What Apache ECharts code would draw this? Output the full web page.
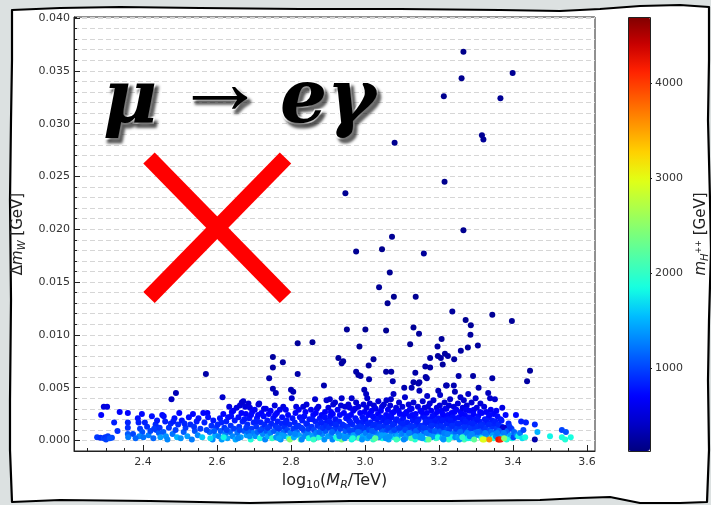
<!DOCTYPE html>
<html><head><meta charset="utf-8">
<script src="https://cdn.jsdelivr.net/npm/echarts@6/dist/echarts.min.js"></script>
<style>html,body{margin:0;padding:0;background:#dce1e1;}#c{width:711px;height:505px;}</style>
</head><body><div id="c"></div>
<script>
// ---- tick values ----
const xMajorTicks = [2.4, 2.6, 2.8, 3.0, 3.2, 3.4, 3.6];
const xMinorTicks = [2.25,2.30,2.35,2.45,2.50,2.55,2.65,2.70,2.75,2.85,2.90,2.95,3.05,3.10,3.15,3.25,3.30,3.35,3.45,3.50,3.55];
const yMajorTicks = [0.000,0.005,0.010,0.015,0.020,0.025,0.030,0.035,0.040];
const colorbarTicks = [1000, 2000, 3000, 4000];
const xRange = [2.2135, 3.6216];
const yRange = [-0.001, 0.0401];
const colorRange = [126, 4695];

// ---- data: [log10(M_R/TeV), Delta m_W (GeV), m_H++ (GeV)] ----
const upperPoints = [
[3.266,0.0368,170],[3.261,0.0343,190],[3.399,0.0348,200],[3.213,0.0326,180],[3.366,0.0324,210],[3.080,0.0282,190],[3.316,0.0289,200],[3.320,0.0285,220],[3.215,0.0245,180],[2.947,0.0234,200],[3.266,0.0199,190],[3.073,0.0193,210],[2.976,0.0179,200],[3.046,0.0181,180],[3.159,0.0177,230],[3.067,0.0159,200],[3.038,0.0145,220],[3.061,0.0130,210],[3.078,0.0136,190],[3.137,0.0136,200],[3.236,0.0122,240],[3.344,0.0119,210],[3.397,0.0113,220],[3.272,0.0114,200],[3.286,0.0109,230],[3.285,0.0100,250],[3.001,0.0105,210],[3.057,0.0104,200],[3.131,0.0107,220],[3.146,0.0101,240],[3.207,0.0096,230],[3.196,0.0089,260],[3.122,0.0091,220],[2.985,0.0089,230],[3.305,0.0090,250],[3.278,0.0088,240],[3.259,0.0085,260],[3.197,0.0080,250],[3.216,0.0082,260],[3.224,0.0080,270],[3.210,0.0072,250],[3.205,0.0078,280],[3.241,0.0077,260],[3.176,0.0078,270],[3.023,0.0077,250],[3.010,0.0071,260],[3.163,0.0070,280],[3.176,0.0069,270],[3.136,0.0064,290],[3.057,0.0065,260],[3.071,0.0065,280],[2.982,0.0062,270],[2.988,0.0061,300],[3.446,0.0066,240],[3.438,0.0056,260],[3.344,0.0059,280],[3.292,0.0061,270],[3.253,0.0061,290],[3.011,0.0058,300],[3.164,0.0060,280],[3.131,0.0055,300],[3.147,0.0055,290],[3.075,0.0056,310],[3.219,0.0052,300],[3.240,0.0052,320],[3.106,0.0050,310],[3.126,0.0050,330],[3.307,0.0050,300],[2.951,0.0105,220],[2.818,0.0092,230],[2.858,0.0093,220],[2.751,0.0079,250],[2.751,0.0069,270],[2.778,0.0074,260],[2.928,0.0078,250],[2.937,0.0073,270],[2.941,0.0075,260],[2.818,0.0063,290],[2.570,0.0063,280],[2.976,0.0065,290],[2.741,0.0059,300],[2.751,0.0049,330],[2.759,0.0045,350],[2.800,0.0048,330],[2.806,0.0046,340],[2.889,0.0052,310],[2.489,0.0045,340],[2.477,0.0039,380],[2.998,0.0048,330],[3.144,0.0054,300],[3.167,0.0059,290],[3.198,0.0047,340],[3.221,0.0052,320],[3.243,0.0046,350],[3.147,0.0047,350],[3.333,0.0045,360]
];
const leftPoints = [
[2.276,0.0003,950],[2.285,0.00025,900],[2.294,0.0002,1000],[2.298,0.0003,920],[2.300,0.0001,980],[2.287,0.0024,700],[2.294,0.0032,520],[2.303,0.0032,540],
[2.305,0.0004,950],[2.316,0.00025,1000],[2.322,0.0017,820],[2.331,0.0009,900],[2.337,0.0027,680],[2.310,0.0002,1050],
[2.359,0.0026,700],[2.359,0.0017,850],[2.359,0.0012,900],[2.359,0.0006,1100],[2.360,0.0003,1250],[2.373,0.0006,1000],[2.386,0.0021,760],[2.388,0.0017,820],[2.397,0.0025,720],[2.392,0.0011,950],[2.398,0.0008,1050],[2.390,0.0004,1300],[2.380,0.0002,1150],
[2.401,0.0003,1200],[2.411,0.0013,900],[2.424,0.0023,750],[2.434,0.0015,880],[2.438,0.0019,800],[2.436,0.0010,980],[2.443,0.0007,1100],[2.447,0.0003,1400],[2.415,0.0005,1250],[2.420,0.0009,1000],[2.428,0.0002,1150],[2.405,0.0017,840],[2.430,0.0011,950],[2.445,0.0012,920],
[2.452,0.0024,720],[2.456,0.0023,740],[2.460,0.0018,820],[2.498,0.0026,700],[2.455,0.0008,1100],[2.462,0.0004,1350],[2.470,0.0012,930],[2.475,0.0016,860],[2.480,0.0006,1200],[2.485,0.0021,760],[2.488,0.0010,980],[2.492,0.0003,1500],[2.495,0.0015,880],[2.466,0.0001,1300],[2.482,0.0018,800],
[2.505,0.0019,790],[2.510,0.0008,1100],[2.515,0.0012,940],[2.520,0.0004,1400],[2.524,0.0022,750],[2.528,0.0015,870],[2.532,0.0001,1250],[2.535,0.0025,710],[2.540,0.0009,1050],[2.545,0.0018,810],[2.548,0.0005,1300],[2.512,0.0016,850],[2.538,0.0013,920],[2.502,0.0002,1350],[2.550,0.0021,770],
[2.555,0.0011,960],[2.560,0.0003,1600],[2.563,0.0026,700],[2.566,0.0017,830],[2.574,0.0026,690],[2.576,0.0022,760],[2.580,0.0008,1150],[2.585,0.0014,900],[2.588,0.0001,1300],[2.590,0.0019,790],[2.595,0.0005,1450],[2.598,0.0012,930],[2.572,0.0010,1000],[2.582,0.0002,1700],[2.592,0.0009,1100]
];
const midPoints = [
[2.602,0.0015,870],[2.605,0.0004,1300],[2.608,0.0021,770],[2.610,0.0009,1100],[2.613,0.0001,1400],[2.615,0.0041,420],[2.617,0.0025,700],[2.620,0.0012,930],[2.622,0.0006,1250],[2.625,0.0018,820],[2.628,0.0002,1450],[2.630,0.0022,750],[2.633,0.0032,520],[2.635,0.0008,1150],[2.637,0.0014,900],[2.640,0.0027,680],[2.642,0.0004,1300],[2.644,0.0028,660],[2.646,0.0011,960],[2.648,0.0019,800],[2.650,0.0001,1450],[2.612,0.0017,840],[2.626,0.0010,1000],[2.638,0.0023,740],[2.618,0.0003,1800],
[2.653,0.0031,540],[2.655,0.0007,1200],[2.658,0.0022,750],[2.660,0.0013,910],[2.662,0.0033,500],[2.664,0.0003,1400],[2.667,0.0036,470],[2.669,0.0018,820],[2.671,0.0037,460],[2.673,0.0009,1100],[2.676,0.0032,520],[2.678,0.0025,700],[2.680,0.0005,1400],[2.682,0.0015,870],[2.685,0.0035,490],[2.687,0.0021,770],[2.689,0.0031,540],[2.691,0.0001,1900],[2.693,0.0011,950],[2.695,0.0027,680],[2.697,0.0007,1250],[2.699,0.0017,830],[2.657,0.0002,1300],[2.666,0.0026,690],[2.674,0.0020,780],[2.684,0.0008,1150],[2.692,0.0024,720],[2.661,0.0010,1000],[2.679,0.0012,930],[2.688,0.0004,1350],
[2.702,0.0029,640],[2.704,0.0004,1350],[2.706,0.0013,910],[2.708,0.0021,770],[2.710,0.0008,1150],[2.712,0.0034,500],[2.714,0.0035,490],[2.716,0.0002,1850],[2.718,0.0017,830],[2.720,0.0026,690],[2.722,0.0011,950],[2.724,0.0006,1300],[2.726,0.0023,740],[2.728,0.0015,870],[2.730,0.0001,1300],[2.732,0.0030,600],[2.734,0.0009,1100],[2.736,0.0019,800],[2.738,0.0004,1450],[2.740,0.0025,700],[2.742,0.0013,910],[2.744,0.0007,1250],[2.745,0.0028,660],[2.747,0.0016,850],[2.749,0.0002,2000],[2.707,0.0018,820],[2.717,0.0010,1000],[2.727,0.0030,580],[2.737,0.0012,930],[2.711,0.0024,720],
[2.752,0.0021,770],[2.754,0.0009,1100],[2.756,0.0033,500],[2.758,0.0014,890],[2.760,0.0003,1350],[2.762,0.0026,690],[2.764,0.0018,820],[2.766,0.0006,1300],[2.768,0.0011,950],[2.770,0.0029,640],[2.772,0.0001,1350],[2.774,0.0016,850],[2.776,0.0022,750],[2.779,0.0032,520],[2.780,0.0008,1150],[2.782,0.0013,910],[2.784,0.0004,1400],[2.786,0.0029,640],[2.788,0.0019,800],[2.790,0.0010,1000],[2.792,0.0024,720],[2.794,0.0002,1900],[2.796,0.0015,870],[2.797,0.0001,2500],[2.798,0.0007,1250],[2.763,0.0012,930],[2.775,0.0005,1400],[2.785,0.0017,830],[2.757,0.0024,720],[2.767,0.0002,1450],
[2.802,0.0040,430],[2.804,0.0021,770],[2.806,0.0011,950],[2.808,0.0003,1450],[2.810,0.0017,830],[2.812,0.0026,690],[2.814,0.0032,520],[2.816,0.0008,1150],[2.820,0.0014,890],[2.822,0.0005,1400],[2.824,0.0022,750],[2.826,0.0001,2100],[2.828,0.0012,930],[2.830,0.0019,800],[2.833,0.0032,520],[2.835,0.0009,1100],[2.837,0.0004,1300],[2.839,0.0027,680],[2.842,0.0034,500],[2.844,0.0015,870],[2.846,0.0007,1250],[2.848,0.0002,1850],[2.850,0.0020,780],[2.811,0.0006,1300],[2.821,0.0029,640],[2.831,0.0011,950],[2.841,0.0016,850],[2.829,0.0001,1300],[2.815,0.0013,910],[2.836,0.0023,740],[2.847,0.0011,960],
[2.854,0.0029,640],[2.856,0.0013,910],[2.858,0.0005,1400],[2.860,0.0024,720],[2.862,0.0010,1000],[2.864,0.0002,1350],[2.865,0.0039,440],[2.866,0.0018,820],[2.868,0.0007,1250],[2.870,0.0030,600],[2.872,0.0014,890],[2.874,0.0032,520],[2.876,0.0003,1900],[2.878,0.0021,770],[2.880,0.0011,950],[2.883,0.0024,720],[2.885,0.0006,1300],[2.887,0.0016,850],[2.890,0.0001,1350],[2.892,0.0027,680],[2.894,0.0009,1100],[2.896,0.0038,450],[2.898,0.0019,800],[2.900,0.0004,1400],[2.857,0.0020,780],[2.867,0.0026,690],[2.877,0.0008,1150],[2.886,0.0012,930],[2.895,0.0014,890],[2.861,0.0001,2000],[2.881,0.0017,830],[2.891,0.0022,750],
[2.901,0.0031,540],[2.903,0.0012,930],[2.905,0.0039,440],[2.906,0.0023,740],[2.908,0.0027,680],[2.909,0.0006,1300],[2.910,0.0016,850],[2.912,0.0001,1300],[2.914,0.0034,500],[2.916,0.0009,1100],[2.919,0.0036,470],[2.920,0.0020,780],[2.922,0.0003,1800],[2.924,0.0013,910],[2.926,0.0029,640],[2.928,0.0007,1250],[2.930,0.0018,820],[2.932,0.0024,720],[2.934,0.0011,950],[2.937,0.0040,430],[2.937,0.0001,2400],[2.939,0.0015,870],[2.941,0.0005,1400],[2.943,0.0026,690],[2.946,0.0032,520],[2.947,0.0009,1100],[2.949,0.0021,770],[2.904,0.0018,820],[2.913,0.0025,700],[2.918,0.0011,950],[2.927,0.0002,1950],[2.935,0.0033,500],[2.944,0.0014,890],[2.911,0.0008,1150],[2.921,0.0015,870],[2.931,0.0004,1300],[2.945,0.0002,1350],
[2.955,0.0034,500],[2.952,0.0013,910],[2.954,0.0004,1350],[2.957,0.0019,800],[2.959,0.0031,540],[2.960,0.0008,1150],[2.962,0.0024,720],[2.964,0.0040,430],[2.964,0.0001,1800],[2.966,0.0015,870],[2.968,0.0028,660],[2.970,0.0010,1000],[2.972,0.0003,1400],[2.974,0.0021,770],[2.976,0.0036,470],[2.978,0.0012,930],[2.980,0.0006,1300],[2.982,0.0032,520],[2.983,0.0017,830],[2.985,0.0002,2100],[2.987,0.0026,690],[2.989,0.0009,1100],[2.991,0.0014,890],[2.993,0.0022,750],[2.994,0.0004,1450],[2.996,0.0034,500],[2.998,0.0011,950],[2.953,0.0023,740],[2.961,0.0017,830],[2.969,0.0005,1400],[2.977,0.0019,800],[2.986,0.0013,910],[2.992,0.0001,1350],[2.999,0.0027,680],[2.958,0.0010,1000],[2.973,0.0030,580],[2.981,0.0008,1150],[2.995,0.0018,820],[2.967,0.0002,1900]
];
const rightPoints = [
[3.003,0.0044,400],[3.006,0.0040,430],[3.001,0.0020,780],[3.002,0.0007,1250],[3.004,0.0031,540],[3.005,0.0013,910],[3.007,0.0002,1450],[3.009,0.0024,720],[3.011,0.0010,1000],[3.013,0.0035,490],[3.015,0.0017,830],[3.016,0.0005,1400],[3.018,0.0028,660],[3.020,0.0014,890],[3.022,0.0001,2000],[3.024,0.0033,500],[3.025,0.0021,770],[3.027,0.0008,1150],[3.029,0.0030,600],[3.031,0.0012,930],[3.033,0.0004,1300],[3.035,0.0025,700],[3.036,0.0037,460],[3.038,0.0016,850],[3.040,0.0006,1300],[3.042,0.0022,750],[3.044,0.0011,950],[3.046,0.0032,520],[3.047,0.0002,1850],[3.049,0.0019,800],[3.008,0.0016,850],[3.014,0.0026,690],[3.019,0.0009,1100],[3.026,0.0015,870],[3.032,0.0020,780],[3.037,0.0003,1350],[3.043,0.0028,660],[3.048,0.0009,1100],[3.012,0.0004,1300],[3.021,0.0023,740],[3.028,0.0002,2200],[3.039,0.0013,910],[3.045,0.0005,1400],
[3.051,0.0034,500],[3.053,0.0014,890],[3.055,0.0005,1400],[3.057,0.0024,720],[3.058,0.0038,450],[3.060,0.0010,1000],[3.062,0.0029,640],[3.064,0.0001,1400],[3.066,0.0018,820],[3.068,0.0033,500],[3.070,0.0039,440],[3.071,0.0008,1150],[3.072,0.0022,750],[3.074,0.0013,910],[3.076,0.0003,1800],[3.077,0.0044,400],[3.078,0.0027,680],[3.080,0.0016,850],[3.082,0.0006,1300],[3.084,0.0031,540],[3.086,0.0020,780],[3.088,0.0011,950],[3.090,0.0002,1950],[3.092,0.0036,470],[3.094,0.0025,700],[3.096,0.0009,1100],[3.098,0.0015,870],[3.054,0.0021,770],[3.059,0.0017,830],[3.063,0.0012,930],[3.067,0.0004,1350],[3.073,0.0026,690],[3.079,0.0010,1000],[3.083,0.0019,800],[3.087,0.0004,1450],[3.091,0.0028,660],[3.095,0.0018,820],[3.099,0.0006,1300],[3.056,0.0002,1350],[3.065,0.0023,740],[3.075,0.0015,870],[3.085,0.0001,2050],[3.093,0.0012,930],
[3.101,0.0032,520],[3.103,0.0021,770],[3.104,0.0007,1250],[3.106,0.0013,910],[3.108,0.0041,420],[3.110,0.0002,1450],[3.112,0.0027,680],[3.114,0.0017,830],[3.116,0.0009,1100],[3.118,0.0034,500],[3.120,0.0023,740],[3.122,0.0004,1300],[3.124,0.0014,890],[3.126,0.0030,600],[3.127,0.0008,1150],[3.129,0.0019,800],[3.131,0.0036,470],[3.133,0.0011,950],[3.135,0.0001,1900],[3.137,0.0025,700],[3.139,0.0015,870],[3.141,0.0006,1300],[3.143,0.0032,520],[3.145,0.0020,780],[3.146,0.0010,1000],[3.148,0.0003,1400],[3.150,0.0028,660],[3.102,0.0016,850],[3.107,0.0025,700],[3.113,0.0005,1400],[3.117,0.0012,930],[3.121,0.0029,640],[3.125,0.0002,2150],[3.130,0.0013,910],[3.134,0.0022,750],[3.138,0.0009,1100],[3.142,0.0018,820],[3.149,0.0012,930],[3.109,0.0010,1000],[3.119,0.0007,1250],[3.128,0.0024,720],[3.136,0.0004,1450],[3.105,0.0001,1300],
[3.152,0.0014,890],[3.154,0.0005,1400],[3.156,0.0037,460],[3.157,0.0023,740],[3.159,0.0009,1100],[3.161,0.0031,540],[3.163,0.0016,850],[3.165,0.0001,1800],[3.167,0.0026,690],[3.168,0.0042,410],[3.169,0.0011,950],[3.171,0.0020,780],[3.173,0.0006,1300],[3.175,0.0035,490],[3.177,0.0013,910],[3.179,0.0028,660],[3.181,0.0003,1350],[3.183,0.0018,820],[3.185,0.0038,450],[3.186,0.0008,1150],[3.188,0.0024,720],[3.190,0.0015,870],[3.192,0.0002,2000],[3.194,0.0031,540],[3.196,0.0011,950],[3.198,0.0021,770],[3.200,0.0006,1300],[3.153,0.0027,680],[3.158,0.0012,930],[3.162,0.0021,770],[3.166,0.0007,1250],[3.170,0.0032,520],[3.174,0.0017,830],[3.178,0.0010,1000],[3.182,0.0023,740],[3.187,0.0004,1350],[3.191,0.0019,800],[3.195,0.0027,680],[3.199,0.0013,910],[3.155,0.0002,1400],[3.164,0.0018,820],[3.172,0.0001,2300],[3.180,0.0014,890],[3.189,0.0009,1100],[3.197,0.0003,1850],
[3.203,0.0043,410],[3.202,0.0033,500],[3.204,0.0017,830],[3.205,0.0009,1100],[3.207,0.0028,660],[3.209,0.0002,1450],[3.211,0.0022,750],[3.213,0.0012,930],[3.215,0.0036,470],[3.216,0.0005,1400],[3.218,0.0019,800],[3.220,0.0030,600],[3.222,0.0010,1000],[3.224,0.0024,720],[3.226,0.0001,2000],[3.228,0.0015,870],[3.230,0.0039,440],[3.232,0.0007,1250],[3.234,0.0026,690],[3.236,0.0018,820],[3.238,0.0004,1300],[3.240,0.0032,520],[3.241,0.0013,910],[3.243,0.0021,770],[3.245,0.0008,1150],[3.247,0.0029,640],[3.249,0.0016,850],[3.206,0.0014,890],[3.210,0.0025,700],[3.214,0.0007,1250],[3.217,0.0030,600],[3.221,0.0016,850],[3.225,0.0020,780],[3.229,0.0011,950],[3.233,0.0003,1850],[3.237,0.0022,750],[3.242,0.0027,680],[3.246,0.0011,950],[3.208,0.0019,800],[3.212,0.0001,1350],[3.223,0.0006,1300],[3.231,0.0019,800],[3.244,0.0003,1350],[3.227,0.0033,500],[3.235,0.0014,890],
[3.251,0.0035,490],[3.252,0.0003,1450],[3.254,0.0022,750],[3.256,0.0012,930],[3.258,0.0041,420],[3.259,0.0027,680],[3.260,0.0006,1300],[3.262,0.0017,830],[3.264,0.0031,540],[3.266,0.0010,1000],[3.267,0.0038,450],[3.268,0.0001,2100],[3.270,0.0024,720],[3.272,0.0014,890],[3.274,0.0005,1400],[3.275,0.0033,500],[3.277,0.0019,800],[3.279,0.0044,400],[3.280,0.0009,1100],[3.282,0.0028,660],[3.284,0.0016,850],[3.286,0.0002,1900],[3.288,0.0036,470],[3.290,0.0021,770],[3.292,0.0011,950],[3.294,0.0029,640],[3.296,0.0004,1350],[3.298,0.0018,820],[3.299,0.0040,430],[3.300,0.0008,1150],[3.253,0.0016,850],[3.257,0.0008,1150],[3.261,0.0025,700],[3.265,0.0020,780],[3.269,0.0013,910],[3.273,0.0029,640],[3.276,0.0007,1250],[3.281,0.0022,750],[3.285,0.0012,930],[3.289,0.0006,1300],[3.293,0.0025,700],[3.297,0.0013,910],[3.255,0.0001,1400],[3.263,0.0003,2000],[3.271,0.0018,820],[3.278,0.0002,1800],[3.283,0.0004,1300],[3.291,0.0016,850],[3.295,0.0001,2250],
[3.302,0.0031,540],[3.304,0.0013,910],[3.306,0.0023,740],[3.308,0.0005,1400],[3.310,0.0018,820],[3.312,0.0035,490],[3.314,0.0009,1100],[3.316,0.0026,690],[3.318,0.0015,870],[3.320,0.0004,1300],[3.322,0.0032,520],[3.324,0.0020,780],[3.326,0.0011,950],[3.328,0.0027,680],[3.330,0.0006,1300],[3.332,0.0016,850],[3.334,0.0022,750],[3.338,0.0040,430],[3.338,0.0010,1000],[3.340,0.0029,640],[3.342,0.0003,1800],[3.344,0.0019,800],[3.346,0.0013,910],[3.348,0.0025,700],[3.350,0.0007,1250],[3.305,0.0008,1150],[3.311,0.0027,680],[3.315,0.0002,1950],[3.321,0.0012,930],[3.325,0.0007,1250],[3.329,0.0019,800],[3.335,0.0015,870],[3.341,0.0008,1150],[3.345,0.0005,1400],[3.349,0.0016,850],[3.303,0.0020,780],[3.313,0.0014,890],[3.327,0.0002,1350],[3.337,0.0024,720],[3.347,0.0002,1900]
];
const tailPoints = [
[3.351,0.0039,440],[3.352,0.0018,820],[3.354,0.0004,1300],[3.356,0.0011,950],[3.358,0.0023,740],[3.361,0.0015,870],[3.364,0.0008,1150],[3.366,0.0020,780],[3.368,0.0005,1400],[3.370,0.0013,910],[3.371,0.0031,540],[3.372,0.0012,500],[3.374,0.0003,1600],[3.378,0.0012,480],[3.380,0.0024,720],[3.382,0.0006,1300],[3.385,0.0009,1100],[3.388,0.0016,850],[3.390,0.0003,1700],[3.393,0.0005,1400],[3.396,0.0011,950],[3.398,0.0002,1800],[3.355,0.0028,660],[3.362,0.0009,1100],[3.369,0.0019,800],[3.375,0.0007,1250],[3.383,0.0001,1900],[3.357,0.0007,1250],[3.391,0.0013,910],
[3.401,0.0003,1000],[3.403,0.0008,1150],[3.408,0.0024,720],[3.410,0.0005,1300],[3.414,0.0004,1800],[3.419,0.0007,1250],[3.422,0.0018,820],[3.425,0.0002,1700],[3.433,0.0003,1850],[3.435,0.0017,830],[3.428,0.0010,1000],
[3.459,0.0015,870],[3.459,0.0001,300],[3.466,0.0008,1500],[3.500,0.0004,1800],[3.532,0.0010,1000],[3.543,0.0008,1050],[3.532,0.0003,1850],[3.541,0.0001,1900],[3.556,0.0003,1850]
];
const hotPoints = [
[3.318,0.0001,3000],[3.322,0.0001,2950],[3.336,0.0001,3600],[3.360,0.0001,4200],[3.363,0.0001,4250],[3.367,0.0001,4150],[3.376,0.0002,2500]
];

const jet = ['#000080','#0000c8','#0000ff','#0040ff','#0080ff','#00bfff','#15ffe2','#48ffaf','#7bff7b','#afff48','#e2ff15','#ffd200','#ff9700','#ff5c00','#ff2100','#c80000','#800000'];

const allPoints = upperPoints.concat(leftPoints, midPoints, rightPoints, tailPoints, hotPoints);

const chart = echarts.init(document.getElementById('c'), null, {renderer: 'canvas'});
const tickFont = {fontFamily: 'DejaVu Sans', fontSize: 11, color: '#333'};
const axisCol = '#222';
const shadowStyle = {textShadowColor: 'rgba(0,0,0,0.55)', textShadowBlur: 3, textShadowOffsetX: 3, textShadowOffsetY: 4};

chart.setOption({
  backgroundColor: '#dce1e1',
  animation: false,
  grid: [
    {left: 74, top: 17, width: 521, height: 434, show: true, backgroundColor: '#fff', borderColor: axisCol, borderWidth: 1, containLabel: false},
    {left: 628, top: 17, width: 22, height: 434, show: false, containLabel: false}
  ],
  xAxis: [
    {type: 'value', gridIndex: 0, position: 'bottom', min: xRange[0], max: xRange[1],
     axisLine: {show: true, onZero: false, lineStyle: {color: axisCol, width: 1}},
     axisTick: {show: true, inside: true, length: 3, customValues: xMinorTicks, lineStyle: {color: axisCol}},
     axisLabel: {show: false}, splitLine: {show: false}},
    {type: 'value', gridIndex: 0, position: 'bottom', min: xRange[0], max: xRange[1],
     axisLine: {show: false, onZero: false},
     axisTick: {show: true, inside: true, length: 6, customValues: xMajorTicks, lineStyle: {color: axisCol}},
     axisLabel: Object.assign({show: true, margin: 6, customValues: xMajorTicks, formatter: v => v.toFixed(1)}, tickFont),
     splitLine: {show: false},
     name: '{t|log}{s|10}{t|(}{i|M}{si|R}{t|/TeV)}', nameLocation: 'middle', nameGap: 20,
     nameTextStyle: {rich: {
       t: {fontFamily: 'DejaVu Sans', fontSize: 16, color: '#222'},
       i: {fontFamily: 'DejaVu Sans', fontStyle: 'italic', fontSize: 16, color: '#222'},
       s: {fontFamily: 'DejaVu Sans', fontSize: 11, color: '#222', padding: [9, 0, 0, 0]},
       si: {fontFamily: 'DejaVu Sans', fontStyle: 'italic', fontSize: 11, color: '#222', padding: [9, 0, 0, 0]}
     }}},
    {type: 'category', gridIndex: 1, data: ['cb'], show: false}
  ],
  yAxis: [
    {type: 'value', gridIndex: 0, position: 'left', min: yRange[0], max: yRange[1], interval: 0.001,
     axisLine: {show: true, onZero: false, lineStyle: {color: axisCol, width: 1}},
     axisTick: {show: true, inside: true, length: 3, lineStyle: {color: axisCol}},
     axisLabel: {show: false},
     splitLine: {show: true, lineStyle: {color: '#d6d6d6', width: 1, type: [5, 3]}}},
    {type: 'value', gridIndex: 0, position: 'left', min: yRange[0], max: yRange[1],
     axisLine: {show: false, onZero: false},
     axisTick: {show: true, inside: true, length: 6, customValues: yMajorTicks, lineStyle: {color: axisCol}},
     axisLabel: Object.assign({show: true, margin: 4, customValues: yMajorTicks, formatter: v => v.toFixed(3)}, tickFont),
     splitLine: {show: false},
     name: '{t|Δ}{i|m}{s|W}{t| [GeV]}', nameLocation: 'middle', nameRotate: 90, nameGap: 44,
     nameTextStyle: {rich: {
       t: {fontFamily: 'DejaVu Sans', fontSize: 15, color: '#222'},
       i: {fontFamily: 'DejaVu Sans', fontStyle: 'italic', fontSize: 15, color: '#222'},
       s: {fontFamily: 'DejaVu Sans', fontStyle: 'italic', fontSize: 10, color: '#222', padding: [8, 0, 0, 0]}
     }}},
    {type: 'value', gridIndex: 1, position: 'right', min: colorRange[0], max: colorRange[1],
     axisLine: {show: false},
     axisTick: {show: true, inside: false, length: 4, customValues: colorbarTicks, lineStyle: {color: axisCol}},
     axisLabel: Object.assign({show: true, margin: 7, customValues: colorbarTicks, formatter: v => String(Math.round(v))}, tickFont),
     splitLine: {show: false},
     name: '{i|m}{s|H}{p|++}{t| [GeV]}', nameLocation: 'middle', nameRotate: 90, nameGap: 44,
     nameTextStyle: {rich: {
       t: {fontFamily: 'DejaVu Sans', fontSize: 15, color: '#222'},
       i: {fontFamily: 'DejaVu Sans', fontStyle: 'italic', fontSize: 15, color: '#222'},
       s: {fontFamily: 'DejaVu Sans', fontStyle: 'italic', fontSize: 10, color: '#222', padding: [8, 0, 0, 0]},
       p: {fontFamily: 'DejaVu Sans', fontSize: 8, color: '#222', padding: [0, 0, 4, 0]}
     }}}
  ],
  visualMap: {
    type: 'continuous', min: colorRange[0], max: colorRange[1], dimension: 2, seriesIndex: 0,
    inRange: {color: jet}, show: true, left: 628, top: 17, itemWidth: 22, itemHeight: 434,
    padding: 0, calculable: false, hoverLink: false, orient: 'vertical'
  },
  series: [{
    type: 'scatter', xAxisIndex: 0, yAxisIndex: 0, data: allPoints,
    symbol: 'circle', symbolSize: 6, itemStyle: {opacity: 1}, z: 3
  }],
  graphic: [
    {type: 'polygon', z: -100, shape: {points: [[12,10],[60,8],[120,7],[200,8],[300,9],[400,9],[500,10],[560,11],[600,9],[640,6],[680,5],[709,7],[709,60],[708,120],[710,200],[711,250],[709,320],[708,380],[709,450],[707,502],[680,503],[640,503],[610,497],[580,498],[540,500],[450,501],[350,501],[250,503],[150,501],[60,500],[12,502],[10,450],[10,400],[11,300],[10,200],[11,120],[12,60]]},
     style: {fill: '#fff', stroke: '#000', lineWidth: 2.2, lineJoin: 'round'}},
    {type: 'rect', z: 100, shape: {x: 628.5, y: 17.5, width: 22, height: 434}, style: {fill: 'none', stroke: '#222', lineWidth: 1}},
    {type: 'line', z: 100, shape: {x1: 149, y1: 158, x2: 285.5, y2: 297.5}, style: {stroke: '#ff0000', lineWidth: 16, lineCap: 'butt'}},
    {type: 'line', z: 100, shape: {x1: 285.5, y1: 158, x2: 149, y2: 297.5}, style: {stroke: '#ff0000', lineWidth: 16, lineCap: 'butt'}},
    {type: 'text', z: 100, x: 103, y: 103, style: Object.assign({text: 'μ', font: 'italic bold 74px "DejaVu Serif"', fill: '#000', stroke: '#fff', lineWidth: 3, verticalAlign: 'middle'}, shadowStyle)},
    {type: 'text', z: 100, x: 174, y: 89, style: Object.assign({text: '→', font: 'normal 92px "Liberation Serif"', fill: '#000', stroke: '#fff', lineWidth: 2, verticalAlign: 'middle'}, shadowStyle)},
    {type: 'text', z: 100, x: 280, y: 103, style: Object.assign({text: 'eγ', font: 'italic bold 74px "DejaVu Serif"', fill: '#000', stroke: '#fff', lineWidth: 3, verticalAlign: 'middle'}, shadowStyle)}
  ]
});
</script></body></html>
